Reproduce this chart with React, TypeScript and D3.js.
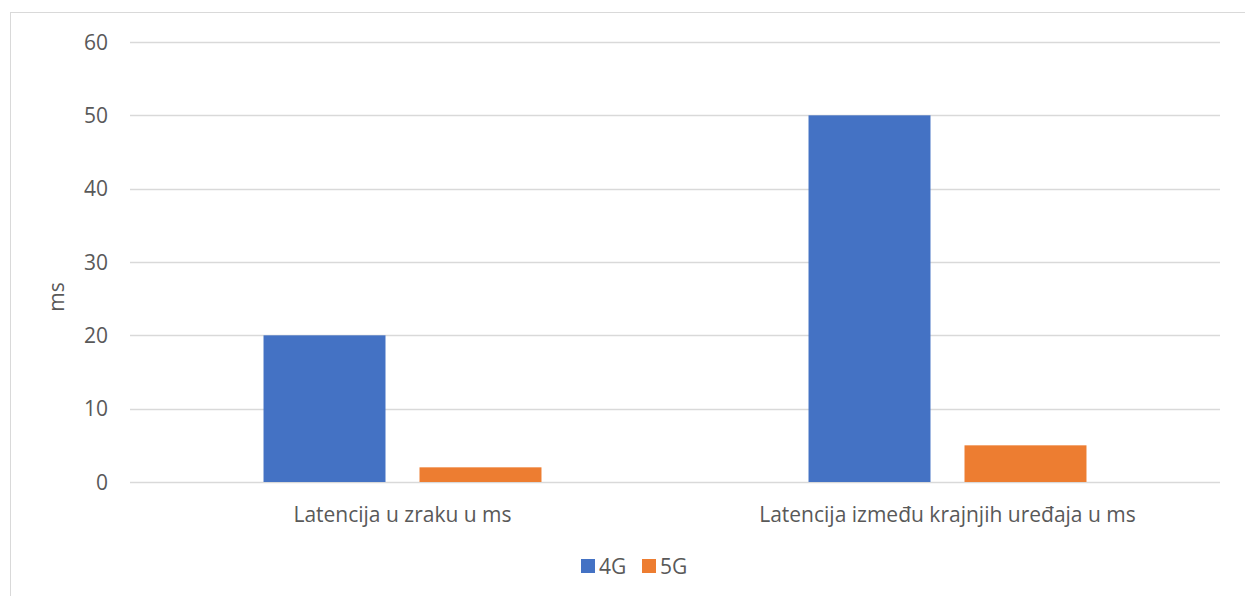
import { scaleBand, scaleLinear } from "d3";

const categories = ["Latencija u zraku u ms", "Latencija između krajnjih uređaja u ms"];
const seriesNames = ["4G", "5G"];
const values4G = [20, 50];
const values5G = [2, 5];
const yTicks = [0, 10, 20, 30, 40, 50, 60];
const colors = ["#4472C4", "#ED7D31"];

const W = 1245;
const H = 596;
const plot = { left: 130, right: 1220, top: 42, bottom: 482 };
const font = "'Open Sans', sans-serif";
const textColor = "#595959";
const fs = 21;

export default function App() {
  const series = [values4G, values5G];

  const x = scaleBand<string>()
    .domain(categories)
    .range([plot.left, plot.right])
    .padding(0);

  // bars inside each category
  const xInner = scaleBand<string>()
    .domain(seriesNames)
    .range([0, x.bandwidth()])
    .paddingInner(0.218)
    .paddingOuter(0.856);

  const y = scaleLinear().domain([0, 60]).range([plot.bottom, plot.top]);

  return (
    <svg
      width={W}
      height={H}
      style={{ position: "absolute", left: 0, top: 0, background: "#fff" }}
      fontFamily={font}
    >
      {/* chart border, runs off the right and bottom edges */}
      <rect x={10.5} y={12.5} width={W + 10} height={H + 10} fill="#fff" stroke="#d9d9d9" strokeWidth={1} />

      {/* grid + y labels */}
      {yTicks.map((t) => (
        <g key={t}>
          <line
            x1={plot.left}
            x2={plot.right}
            y1={Math.round(y(t)) + 0.5}
            y2={Math.round(y(t)) + 0.5}
            stroke="#d9d9d9"
            strokeWidth={1.3}
          />
          <text
            x={108}
            y={y(t)}
            dy="0.36em"
            textAnchor="end"
            fontSize={fs}
            fill={textColor}
          >
            {t}
          </text>
        </g>
      ))}

      {/* bars */}
      {categories.map((c, ci) =>
        seriesNames.map((s, si) => (
          <rect
            key={c + s}
            x={(x(c) ?? 0) + (xInner(s) ?? 0)}
            y={y(series[si][ci])}
            width={xInner.bandwidth()}
            height={y(0) - y(series[si][ci])}
            fill={colors[si]}
          />
        ))
      )}

      {/* category labels */}
      {categories.map((c) => (
        <text
          key={c}
          x={(x(c) ?? 0) + x.bandwidth() / 2}
          y={522}
          textAnchor="middle"
          fontSize={fs}
          fill={textColor}
        >
          {c}
        </text>
      ))}

      {/* y axis title */}
      <text
        transform={`translate(64,297) rotate(-90)`}
        textAnchor="middle"
        fontSize={fs}
        fill={textColor}
      >
        ms
      </text>

      {/* legend */}
      {seriesNames.map((s, i) => {
        const lx = [581, 642][i];
        return (
          <g key={s}>
            <rect x={lx} y={559} width={14} height={14} fill={colors[i]} />
            <text x={lx + 18} y={566} dy="0.36em" fontSize={fs} fill={textColor}>
              {s}
            </text>
          </g>
        );
      })}
    </svg>
  );
}
